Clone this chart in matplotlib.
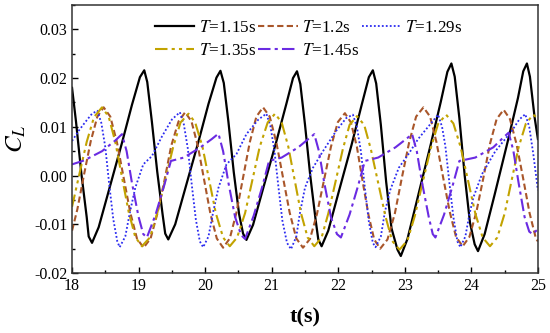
import matplotlib
matplotlib.use('Agg')
import matplotlib.pyplot as plt
from matplotlib.ticker import MultipleLocator

plt.rcParams['font.family'] = 'Liberation Serif'
plt.rcParams['mathtext.fontset'] = 'stix'

# T = 1.15 s
t_115 = [18.00, 18.06, 18.14, 18.22, 18.25, 18.30, 18.40, 18.55, 18.75, 18.90, 19.02, 19.085,
         19.13, 19.20, 19.28, 19.36, 19.40, 19.446, 19.55, 19.70, 19.90, 20.05, 20.17, 20.23,
         20.28, 20.35, 20.43, 20.51, 20.57, 20.62, 20.72, 20.87, 21.07, 21.22, 21.32, 21.38,
         21.43, 21.50, 21.58, 21.66, 21.70, 21.75, 21.85, 22.00, 22.20, 22.35, 22.46, 22.52,
         22.57, 22.64, 22.72, 22.80, 22.89, 22.94, 23.04, 23.19, 23.39, 23.54, 23.64, 23.70,
         23.75, 23.82, 23.90, 23.98, 24.05, 24.10, 24.20, 24.35, 24.55, 24.70, 24.78, 24.835,
         24.88, 24.95, 25.00]
cl_115 = [0.0180, 0.0110, 0.0004, -0.0085, -0.0125, -0.0138, -0.0106, -0.0032, 0.0067, 0.0145, 0.0202, 0.0216,
          0.0192, 0.0110, 0.0008, -0.0079, -0.0119, -0.0131, -0.0100, -0.0027, 0.0070, 0.0147, 0.0201, 0.0215,
          0.0190, 0.0110, 0.0007, -0.0079, -0.0119, -0.0132, -0.0101, -0.0027, 0.0070, 0.0147, 0.0200, 0.0214,
          0.0188, 0.0105, -0.0001, -0.0091, -0.0131, -0.0145, -0.0113, -0.0037, 0.0063, 0.0144, 0.0202, 0.0216,
          0.0189, 0.0104, -0.0013, -0.0108, -0.0152, -0.0165, -0.0130, -0.0047, 0.0064, 0.0151, 0.0213, 0.0230,
          0.0203, 0.0118, 0.0000, -0.0097, -0.0141, -0.0155, -0.0120, -0.0039, 0.0072, 0.0159, 0.0214, 0.0230,
          0.0203, 0.0120, 0.0075]

# T = 1.2 s
t_12 = [18.00, 18.08, 18.18, 18.28, 18.38, 18.475, 18.575, 18.675, 18.775, 18.875, 18.975, 19.075,
        19.18, 19.28, 19.39, 19.49, 19.60, 19.70, 19.795, 19.89, 19.985, 20.08, 20.175, 20.27,
        20.37, 20.47, 20.57, 20.67, 20.77, 20.87, 20.97, 21.07, 21.17, 21.27, 21.37, 21.47,
        21.575, 21.68, 21.785, 21.89, 21.995, 22.10, 22.19, 22.28, 22.365, 22.455, 22.54, 22.63,
        22.74, 22.85, 22.955, 23.065, 23.17, 23.28, 23.38, 23.475, 23.575, 23.675, 23.77, 23.87,
        23.97, 24.075, 24.18, 24.28, 24.38, 24.485, 24.58, 24.68, 24.78, 24.875, 24.97, 25.00]
cl_12 = [-0.0113, -0.0069, 0.0002, 0.0070, 0.0121, 0.0140, 0.0121, 0.0068, -0.0004, -0.0076, -0.0129, -0.0148,
         -0.0129, -0.0079, -0.0009, 0.0061, 0.0111, 0.0130, 0.0111, 0.0061, -0.0009, -0.0079, -0.0129, -0.0148,
         -0.0129, -0.0076, -0.0004, 0.0068, 0.0121, 0.0140, 0.0121, 0.0068, -0.0004, -0.0076, -0.0129, -0.0148,
         -0.0130, -0.0079, -0.0010, 0.0059, 0.0110, 0.0128, 0.0109, 0.0059, -0.0011, -0.0081, -0.0131, -0.0150,
         -0.0131, -0.0078, -0.0005, 0.0068, 0.0121, 0.0140, 0.0121, 0.0069, -0.0003, -0.0074, -0.0126, -0.0145,
         -0.0126, -0.0075, -0.0005, 0.0065, 0.0116, 0.0135, 0.0116, 0.0064, -0.0007, -0.0077, -0.0129, -0.0135]

# T = 1.29 s
t_129 = [18.00, 18.10, 18.20, 18.30, 18.38, 18.44, 18.50, 18.56, 18.62, 18.68, 18.715,
         18.80, 18.87, 18.95, 19.07, 19.20, 19.35, 19.50, 19.62, 19.68, 19.74, 19.80, 19.86, 19.92, 19.97,
         20.05, 20.12, 20.20, 20.32, 20.47, 20.62, 20.80, 20.92, 20.98, 21.04, 21.10, 21.16, 21.23, 21.29,
         21.37, 21.42, 21.50, 21.62, 21.77, 21.97, 22.12, 22.22, 22.28, 22.34, 22.40, 22.46, 22.52, 22.56,
         22.64, 22.70, 22.78, 22.91, 23.06, 23.20, 23.41, 23.50, 23.56, 23.61, 23.67, 23.73, 23.79, 23.835,
         23.91, 23.97, 24.03, 24.16, 24.36, 24.61, 24.72, 24.81, 24.87, 24.93, 25.00]
cl_129 = [0.0071, 0.0092, 0.0110, 0.0127, 0.0133, 0.0108, 0.0058, -0.0020, -0.0090, -0.0135, -0.0147,
          -0.0125, -0.0075, -0.0025, 0.0023, 0.0040, 0.0080, 0.0115, 0.0130, 0.0105, 0.0055, -0.0020, -0.0090, -0.0135, -0.0147,
          -0.0125, -0.0075, -0.0025, 0.0023, 0.0044, 0.0085, 0.0115, 0.0127, 0.0102, 0.0052, -0.0022, -0.0092, -0.0138, -0.0151,
          -0.0125, -0.0080, -0.0025, 0.0016, 0.0050, 0.0092, 0.0118, 0.0125, 0.0100, 0.0050, -0.0025, -0.0095, -0.0138, -0.0147,
          -0.0125, -0.0075, -0.0030, 0.0016, 0.0045, 0.0075, 0.0110, 0.0125, 0.0100, 0.0060, -0.0015, -0.0085, -0.0135, -0.0147,
          -0.0125, -0.0080, -0.0045, 0.0003, 0.0050, 0.0092, 0.0115, 0.0126, 0.0100, 0.0045, -0.0030]

# T = 1.35 s
t_135 = [18.00, 18.10, 18.22, 18.33, 18.45, 18.55, 18.65, 18.75, 18.85, 18.95, 19.05,
         19.17, 19.28, 19.40, 19.52, 19.63, 19.75, 19.85, 19.96, 20.06, 20.16, 20.27, 20.37,
         20.48, 20.60, 20.71, 20.82, 20.94, 21.05, 21.15, 21.25, 21.345, 21.44, 21.54, 21.64,
         21.75, 21.85, 21.96, 22.07, 22.17, 22.28, 22.39, 22.49, 22.60, 22.71, 22.81, 22.92,
         23.04, 23.15, 23.27, 23.39, 23.50, 23.62, 23.73, 23.84, 23.95, 24.06, 24.17, 24.28,
         24.39, 24.50, 24.605, 24.71, 24.82, 24.93, 25.00]
cl_135 = [-0.0064, -0.0003, 0.0069, 0.0120, 0.0140, 0.0121, 0.0069, -0.0003, -0.0074, -0.0126, -0.0145,
          -0.0127, -0.0077, -0.0009, 0.0059, 0.0109, 0.0127, 0.0109, 0.0059, -0.0009, -0.0077, -0.0127, -0.0145,
          -0.0127, -0.0077, -0.0009, 0.0059, 0.0109, 0.0127, 0.0109, 0.0059, -0.0009, -0.0077, -0.0127, -0.0145,
          -0.0127, -0.0078, -0.0012, 0.0055, 0.0104, 0.0122, 0.0104, 0.0054, -0.0015, -0.0084, -0.0134, -0.0152,
          -0.0133, -0.0083, -0.0013, 0.0056, 0.0106, 0.0125, 0.0107, 0.0058, -0.0010, -0.0078, -0.0127, -0.0145,
          -0.0127, -0.0078, -0.0010, 0.0058, 0.0107, 0.0125, 0.0117]

# T = 1.45 s
t_145 = [18.00, 18.18, 18.45, 18.65, 18.75, 18.82, 18.90, 19.00, 19.07, 19.125,
         19.255, 19.385, 19.485, 19.68, 19.93, 20.10, 20.20, 20.27, 20.35, 20.45, 20.54, 20.60,
         20.73, 20.86, 20.96, 21.15, 21.40, 21.55, 21.64, 21.71, 21.79, 21.89, 21.98, 22.04,
         22.17, 22.30, 22.40, 22.60, 22.86, 23.02, 23.11, 23.18, 23.26, 23.36, 23.42, 23.46,
         23.59, 23.72, 23.82, 24.06, 24.33, 24.48, 24.56, 24.63, 24.71, 24.80, 24.87, 24.92, 25.00]
cl_145 = [0.0023, 0.0031, 0.0050, 0.0072, 0.0085, 0.0050, -0.0015, -0.0085, -0.0120, -0.0127,
          -0.0080, -0.0020, 0.0030, 0.0037, 0.0058, 0.0075, 0.0086, 0.0050, -0.0015, -0.0085, -0.0122, -0.0130,
          -0.0082, -0.0022, 0.0030, 0.0037, 0.0058, 0.0075, 0.0085, 0.0050, -0.0015, -0.0085, -0.0120, -0.0127,
          -0.0080, -0.0020, 0.0030, 0.0037, 0.0058, 0.0075, 0.0085, 0.0050, -0.0015, -0.0085, -0.0120, -0.0127,
          -0.0080, -0.0020, 0.0030, 0.0037, 0.0058, 0.0078, 0.0088, 0.0052, -0.0015, -0.0085, -0.0115, -0.0120, -0.0110]

fig = plt.figure(figsize=(5.5, 3.33), dpi=100)
ax = fig.add_axes([0.131, 0.180, 0.847, 0.805])

l1, = ax.plot(t_115, cl_115, color='black', linewidth=1.6, label='$T$=1.15s')
l2, = ax.plot(t_12, cl_12, color='#A9562A', linewidth=1.5, linestyle=(0, (3, 1.6)), label='$T$=1.2s')
l3, = ax.plot(t_129, cl_129, color='#2B2BF0', linewidth=1.3, linestyle=(0, (1, 1.2)), label='$T$=1.29s')
l4, = ax.plot(t_135, cl_135, color='#C2A300', linewidth=1.5, linestyle=(0, (6, 2, 1.5, 2, 1.5, 2)), label='$T$=1.35s')
l5, = ax.plot(t_145, cl_145, color='#6A2BE2', linewidth=1.5, linestyle=(0, (6, 2, 1.5, 2)), label='$T$=1.45s')

ax.set_xlim(18, 25)
ax.set_ylim(-0.02, 0.035)
ax.xaxis.set_major_locator(MultipleLocator(1))
ax.xaxis.set_minor_locator(MultipleLocator(0.5))
ax.yaxis.set_major_locator(MultipleLocator(0.01))
ax.yaxis.set_minor_locator(MultipleLocator(0.005))
ax.yaxis.set_major_formatter(matplotlib.ticker.FormatStrFormatter('%.2f'))
ax.tick_params(which='both', direction='in', top=False, right=False, labelsize=11.5)
ax.tick_params(which='major', length=4, width=1)
ax.tick_params(which='minor', length=2.5, width=1)
for s in ax.spines.values():
    s.set_linewidth(1.1)
    s.set_color('#333333')

ax.set_xlabel('t(s)', fontsize=16, fontweight='bold', labelpad=10)
ax.set_ylabel('$C_L$', fontsize=18, labelpad=4)

# order so that ncol=3 fills rows like the original
ax.legend(handles=[l1, l4, l2, l5, l3], ncol=3, frameon=False, fontsize=12.3,
          loc='upper left', bbox_to_anchor=(0.178, 0.945), borderaxespad=0, borderpad=0,
          handlelength=2.3, handletextpad=0.25, columnspacing=0.15, labelspacing=0.4)

plt.savefig('out.png', dpi=100)
